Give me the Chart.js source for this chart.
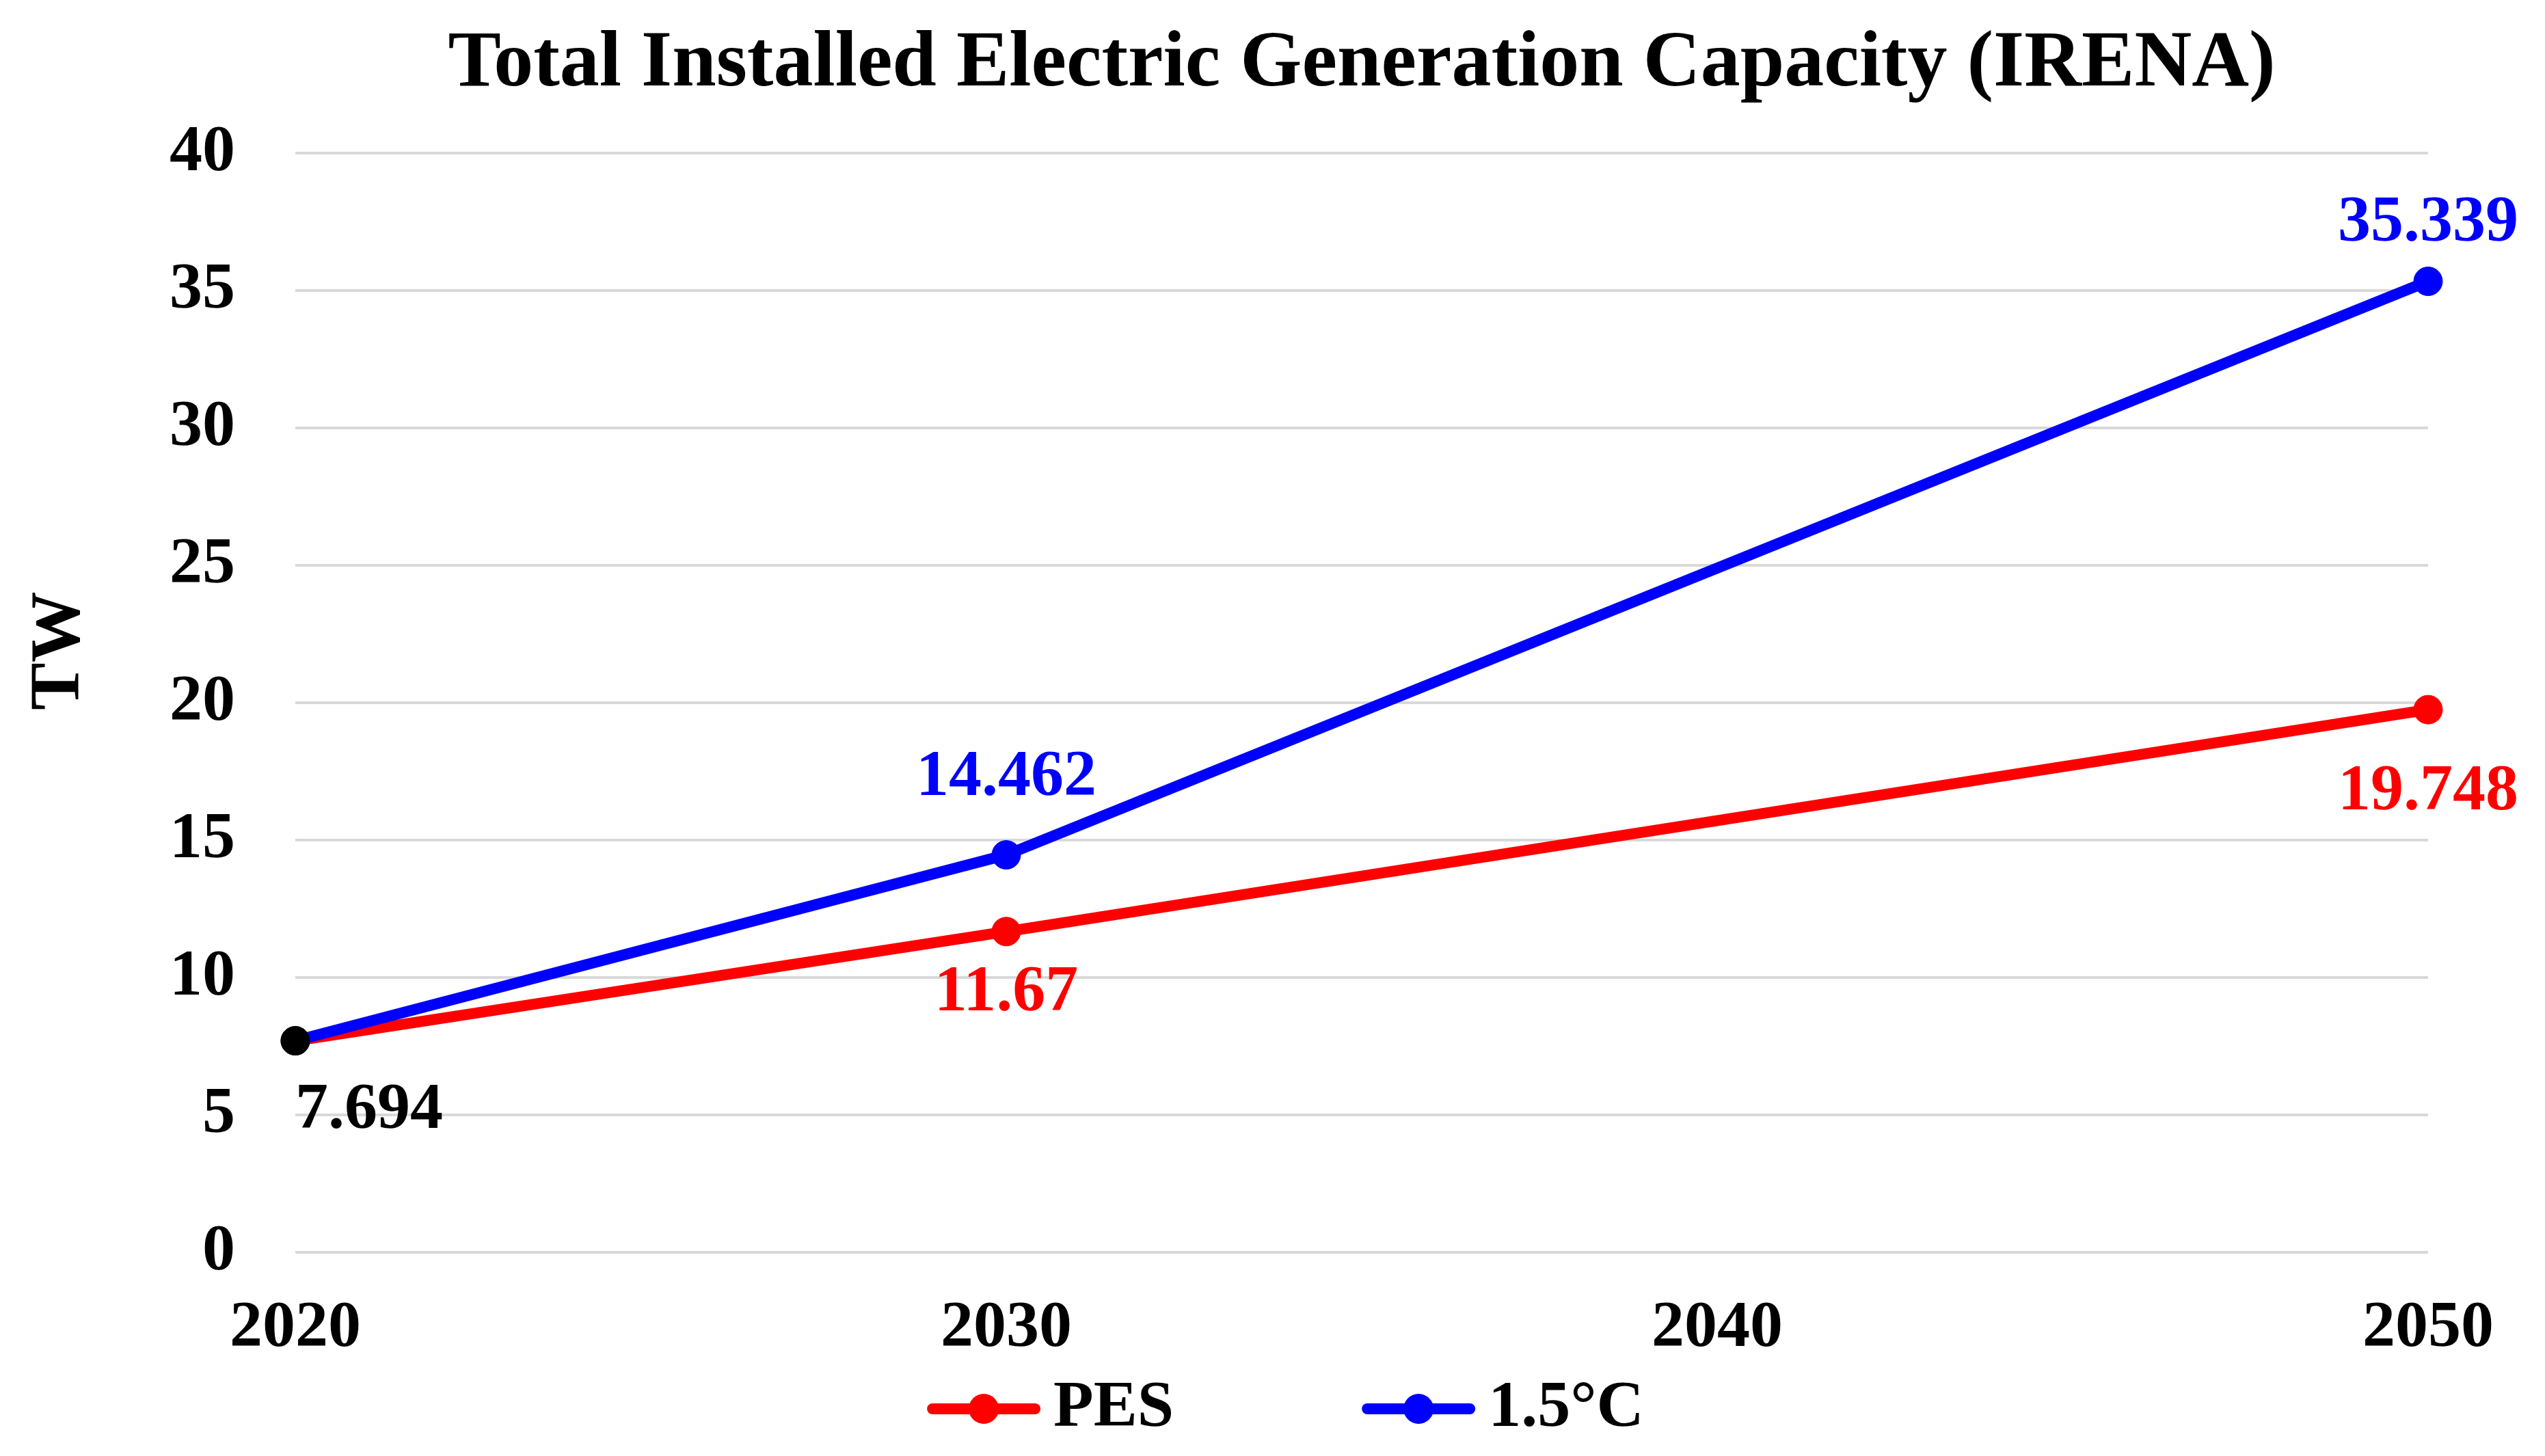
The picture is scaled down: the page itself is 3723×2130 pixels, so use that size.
<!DOCTYPE html>
<html>
<head>
<meta charset="utf-8">
<title>Total Installed Electric Generation Capacity (IRENA)</title>
<script src="https://cdn.jsdelivr.net/npm/chart.js@4.4.1/dist/chart.umd.min.js"></script>
<style>
    html, body { margin: 0; padding: 0; background: #ffffff; }
    #wrap { width: 3723px; height: 2130px; }
</style>
</head>
<body>
<div id="wrap"><canvas id="capacityChart" width="3723" height="2130"></canvas></div>
<script>
// Data (TW)
const years = ['2020', '2030', '2040', '2050'];
const pesValues = [7.694, 11.67, null, 19.748];
const c15Values = [7.694, 14.462, null, 35.339];
const yTicks = [0, 5, 10, 15, 20, 25, 30, 35, 40];
const seriesNames = ['PES', '1.5°C'];
const yAxisTitle = 'TW';

const SERIF = '"Liberation Serif", "Times New Roman", serif';
const RED = '#ff0000';
const BLUE = '#0000ff';
const BLACK = '#000000';

// vertical offset of each value label from its point (px), per series
const labelDy = {
    pes: [103, 90, 0, 121],
    c15: [0, -112, 0, -84]
};

// value labels next to the points
const pointLabels = {
    id: 'pointLabels',
    afterDatasetsDraw(chart) {
        const ctx = chart.ctx;
        ctx.save();
        ctx.font = `bold 96px ${SERIF}`;
        ctx.textBaseline = 'middle';
        chart.data.datasets.forEach((ds, di) => {
            const meta = chart.getDatasetMeta(di);
            const offsets = labelDy[ds.key];
            meta.data.forEach((pt, i) => {
                const v = ds.data[i];
                if (v === null || v === undefined) return;
                if (i === 0) {
                    // shared starting point, labelled once in black
                    if (di !== 0) return;
                    ctx.fillStyle = BLACK;
                    ctx.textAlign = 'left';
                    ctx.fillText(String(v), pt.x, pt.y + offsets[i]);
                    return;
                }
                ctx.fillStyle = ds.borderColor;
                ctx.textAlign = 'center';
                ctx.fillText(String(v), pt.x, pt.y + offsets[i]);
            });
        });
        ctx.restore();
    }
};

// rotated axis title, sitting a bit above the plot's middle like the original
const axisTitle = {
    id: 'axisTitle',
    afterDraw(chart) {
        const {ctx, chartArea} = chart;
        ctx.save();
        ctx.font = `bold 104px ${SERIF}`;
        ctx.fillStyle = BLACK;
        ctx.textAlign = 'center';
        ctx.textBaseline = 'middle';
        ctx.translate(88, (chartArea.top + chartArea.bottom) / 2 - 76);
        ctx.rotate(-Math.PI / 2);
        ctx.fillText(yAxisTitle, 0, 0);
        ctx.restore();
    }
};

// line + marker legend underneath the x axis
const lineLegend = {
    id: 'lineLegend',
    afterDraw(chart) {
        const ctx = chart.ctx;
        const sampleW = 166, textGap = 19, itemGap = 275;
        ctx.save();
        ctx.font = `bold 96px ${SERIF}`;
        ctx.textBaseline = 'middle';
        ctx.textAlign = 'left';
        const items = chart.data.datasets.map(ds => ({
            text: ds.label,
            color: ds.borderColor,
            w: ctx.measureText(ds.label).width
        }));
        let total = 0;
        items.forEach((it, i) => {
            total += sampleW + textGap + it.w + (i > 0 ? itemGap : 0);
        });
        let x = chart.width / 2 - total / 2 + 19;
        const y = chart.height - 69;
        items.forEach(it => {
            ctx.strokeStyle = it.color;
            ctx.fillStyle = it.color;
            ctx.lineWidth = 16;
            ctx.lineCap = 'round';
            ctx.beginPath();
            ctx.moveTo(x + 8, y);
            ctx.lineTo(x + sampleW - 8, y);
            ctx.stroke();
            ctx.beginPath();
            ctx.arc(x + sampleW / 2, y, 22, 0, Math.PI * 2);
            ctx.fill();
            ctx.fillStyle = BLACK;
            ctx.fillText(it.text, x + sampleW + textGap, y);
            x += sampleW + textGap + it.w + itemGap;
        });
        ctx.restore();
    }
};

const startColors = (color) => years.map((_, i) => i === 0 ? BLACK : color);

Chart.defaults.font.family = SERIF;
Chart.defaults.color = BLACK;

new Chart(document.getElementById('capacityChart').getContext('2d'), {
    type: 'line',
    data: {
        labels: years,
        datasets: [
            {
                key: 'pes',
                label: seriesNames[0],
                data: pesValues,
                borderColor: RED,
                backgroundColor: RED,
                pointBackgroundColor: startColors(RED),
                pointBorderColor: startColors(RED),
                borderWidth: 16,
                pointRadius: 21,
                pointBorderWidth: 1,
                spanGaps: true,
                tension: 0,
                clip: false,
                order: 1
            },
            {
                key: 'c15',
                label: seriesNames[1],
                data: c15Values,
                borderColor: BLUE,
                backgroundColor: BLUE,
                pointBackgroundColor: startColors(BLUE),
                pointBorderColor: startColors(BLUE),
                borderWidth: 16,
                pointRadius: 21,
                pointBorderWidth: 1,
                spanGaps: true,
                tension: 0,
                clip: false,
                order: 0
            }
        ]
    },
    options: {
        responsive: false,
        animation: false,
        devicePixelRatio: 1,
        layout: { padding: { left: 160, right: 171, top: 0, bottom: 73 } },
        plugins: {
            legend: { display: false },
            tooltip: { enabled: false },
            title: {
                display: true,
                fullSize: false,
                text: 'Total Installed Electric Generation Capacity (IRENA)',
                color: BLACK,
                font: { size: 116, weight: 'bold' },
                padding: { top: 25, bottom: 60 }
            }
        },
        scales: {
            x: {
                type: 'category',
                offset: false,
                grid: { display: false, drawTicks: false },
                border: { display: false },
                ticks: {
                    color: BLACK,
                    font: { size: 96, weight: 'bold' },
                    padding: 55,
                    maxRotation: 0,
                    autoSkip: false
                }
            },
            y: {
                min: yTicks[0],
                max: yTicks[yTicks.length - 1],
                afterBuildTicks: (scale) => {
                    scale.ticks = yTicks.map(v => ({ value: v }));
                },
                grid: { color: '#d9d9d9', lineWidth: 4, drawTicks: false },
                border: { display: false },
                ticks: {
                    color: BLACK,
                    font: { size: 96, weight: 'bold' },
                    padding: 88
                }
            }
        }
    },
    plugins: [pointLabels, axisTitle, lineLegend]
});
</script>
</body>
</html>
